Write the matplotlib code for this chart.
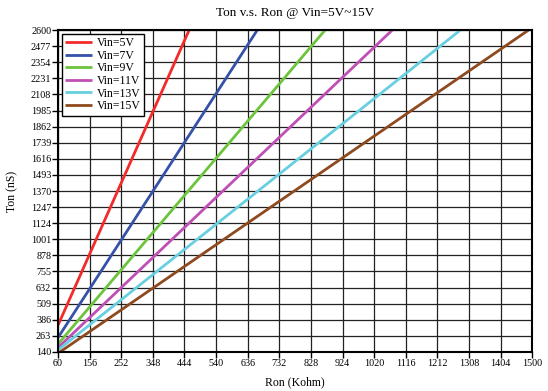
import numpy as np
import matplotlib
matplotlib.use('Agg')
import matplotlib.pyplot as plt

plt.rcParams['font.family'] = ['Liberation Serif', 'DejaVu Serif']

# Ton vs Ron (start point, point where line leaves the top)
labels = ['Vin=5V', 'Vin=7V', 'Vin=9V', 'Vin=11V', 'Vin=13V', 'Vin=15V']
ron_red = [60, 458]
ton_red = [345, 2600]
ron_blue = [60, 665]
ton_blue = [250, 2600]
ron_green = [60, 871]
ton_green = [200, 2600]
ron_magenta = [60, 1075]
ton_magenta = [173, 2600]
ron_cyan = [60, 1282]
ton_cyan = [155, 2600]
ron_brown = [66, 1489]
ton_brown = [140, 2600]

x_ticks = list(range(60, 1501, 96))
y_ticks = list(range(140, 2601, 123))

colors = ['#f42a2a', '#3552a8', '#6cc43c', '#bf4fb4', '#68cfe0', '#8e4a1e']
series = [(ron_red, ton_red), (ron_blue, ton_blue), (ron_green, ton_green),
          (ron_magenta, ton_magenta), (ron_cyan, ton_cyan), (ron_brown, ton_brown)]

fig = plt.figure(figsize=(5.48, 3.91), dpi=100)
ax = fig.add_axes([0.106, 0.1, 0.865, 0.823])

for (xs, ys), c, lab in zip(series, colors, labels):
    ax.plot(xs, ys, color=c, linewidth=2, label=lab, solid_capstyle='butt')

ax.set_xlim(60, 1500)
ax.set_ylim(140, 2600)
ax.set_xticks(x_ticks)
ax.set_yticks(y_ticks)
ax.grid(True, color='#222222', linewidth=0.9)
ax.set_axisbelow(True)
for s in ax.spines.values():
    s.set_linewidth(1.5)
ax.tick_params(axis='both', labelsize=7.3, direction='out', length=4, width=1)
ax.tick_params(axis='x', pad=1)
ax.tick_params(axis='y', pad=1)

ax.set_title('Ton v.s. Ron @ Vin=5V~15V', fontsize=9.5, pad=10)
ax.set_xlabel('Ron (Kohm)', fontsize=8.5, labelpad=6)
ax.set_ylabel('Ton (nS)', fontsize=8.5, labelpad=9)

leg = ax.legend(loc='upper left', fontsize=8.5, frameon=True, fancybox=False,
                edgecolor='black', framealpha=1, borderaxespad=0.3,
                handlelength=2.3, handletextpad=0.4, labelspacing=0.05,
                borderpad=0.3)
leg.get_frame().set_linewidth(1)

fig.savefig('out.png', dpi=100)
